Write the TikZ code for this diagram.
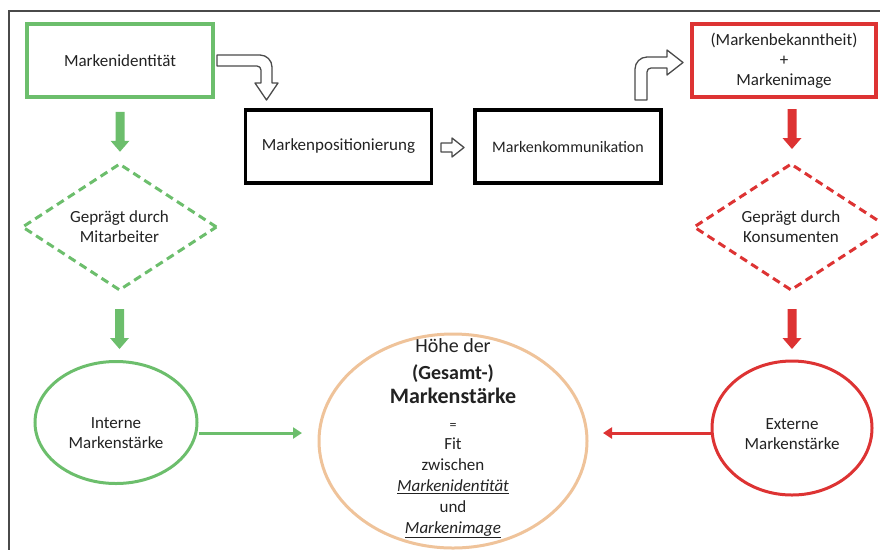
\documentclass[tikz,border=0pt]{standalone}
\usepackage{fontspec}
\setmainfont{Carlito}
\usetikzlibrary{shapes.geometric,arrows.meta,calc}
\definecolor{gr}{HTML}{6CBE6C}
\definecolor{rd}{HTML}{DD3333}
\definecolor{pe}{HTML}{EFC39A}
\definecolor{fr}{HTML}{4A4A4A}
\definecolor{tx}{HTML}{222222}
\begin{document}
\begin{tikzpicture}[x=1pt,y=-1pt,
  every node/.style={text=tx, font=\fontsize{17}{20}\selectfont},
  boxbase/.style={draw, rectangle, line width=3.5pt, minimum width=186pt, minimum height=73pt, inner sep=0pt, align=center},
  gbox/.style={boxbase, draw=gr},
  kbox/.style={boxbase, draw=black},
  rbox/.style={boxbase, draw=rd, minimum width=184pt},
  diabase/.style={diamond, draw, line width=3pt, dash pattern=on 8pt off 5pt, aspect=1.53, minimum width=195pt, minimum height=127pt, inner sep=0pt, align=center},
  gdia/.style={diabase, draw=gr},
  rdia/.style={diabase, draw=rd},
  ellbase/.style={ellipse, draw, line width=3pt, inner sep=0pt},
  txt/.style={align=center, inner sep=0pt},
  thinarr/.style={line width=3pt, -{Triangle[width=11pt,length=9pt]}},
  hollow/.style={draw=fr, fill=white, line width=1.3pt, line join=round},
  blockarr/.pic={\fill (-4.5,0) -- (4.5,0) -- (4.5,29) -- (9.5,29) -- (0,40) -- (-9.5,29) -- (-4.5,29) -- cycle;}
]
\useasboundingbox (0,0) rectangle (880,550);
% frame
\draw[fr, line width=1.5pt] (880,11) -- (9,11) -- (9,550);

% top row
\node[gbox] (mi) at (120,60.5) {Markenidentität};
\node[kbox] (mp) at (338.5,146.5) {Markenpositionierung};
\node[kbox] (mk) at (568,146.5) {\fontsize{16}{20}\selectfont Markenkommunikation};
\node[rbox] (mb) at (784,60.5) {(Markenbekanntheit)\\+\\Markenimage};

% hollow bent arrow 1 (Markenidentität -> Markenpositionierung)
\draw[hollow] (217,55) -- (260,55) .. controls (266.6,55) and (272,60.4) .. (272,67)
  -- (272,83) -- (278,83) -- (266.5,100) -- (255,83) -- (261,83) -- (261,70)
  .. controls (261,67.8) and (259.2,66) .. (257,66) -- (217,66) -- cycle;
% hollow straight arrow
\draw[hollow] (441,143) -- (452,143) -- (452,138) -- (464,147.5) -- (452,157) -- (452,152) -- (441,152) -- cycle;
% hollow bent arrow 2 (Markenkommunikation -> Markenimage)
\draw[hollow] (635,100) -- (635,69) .. controls (635,62.4) and (640.4,57) .. (647,57)
  -- (667,57) -- (667,50) -- (683,62.5) -- (667,75) -- (667,68) -- (651,68)
  .. controls (648.8,68) and (647,69.8) .. (647,72) -- (647,100) -- cycle;

% diamonds
\node[gdia] (gd) at (119.5,227) {Geprägt durch\\Mitarbeiter};
\node[rdia] (rdi) at (791,227) {Geprägt durch\\Konsumenten};

% ellipses
\node[ellbase, draw=gr, minimum width=162pt, minimum height=122pt] (ge) at (116,422.5) {};
\node[txt] (get) at ($(ge.center)+(0,11)$) {Interne\\Markenstärke};
\node[ellbase, draw=rd, minimum width=160pt, minimum height=134pt] (re) at (792,428) {};
\node[txt] (ret) at ($(re.center)+(0,6)$) {Externe\\Markenstärke};
\node[ellbase, draw=pe, minimum width=268pt, minimum height=214pt] (be) at (453,441) {};
\node[txt, font=\fontsize{17}{21}\selectfont] (bet) at (453,438.5) {%
  {\fontsize{20}{24}\selectfont Höhe der}\\[5.5pt]
  {\fontsize{20}{24}\selectfont\bfseries (Gesamt-)}\\[3pt]
  {\fontsize{22}{26}\selectfont\bfseries Markenstärke}\\[5pt]
  {\fontsize{14}{16}\selectfont =}\\[-1pt]
  Fit\\
  zwischen\\
  \underline{\itshape Markenidentität}\\
  und\\
  \underline{\itshape Markenimage}};

% block arrows
\pic[color=gr] at ($(mi.south)+(0,13)$) {blockarr};
\pic[color=gr] at ($(gd.south)+(0,17)$) {blockarr};
\pic[color=rd] at ($(rdi.north)+(1,-53)$) {blockarr};
\pic[color=rd] at ($(rdi.south)+(1,17)$) {blockarr};

% thin arrows to centre
\coordinate (gtip) at (302,433);
\coordinate (rtip) at (603,433);
\draw[thinarr, gr] (ge.east |- gtip) -- (gtip);
\draw[thinarr, rd] (re.west |- rtip) -- (rtip);
\end{tikzpicture}
\end{document}
